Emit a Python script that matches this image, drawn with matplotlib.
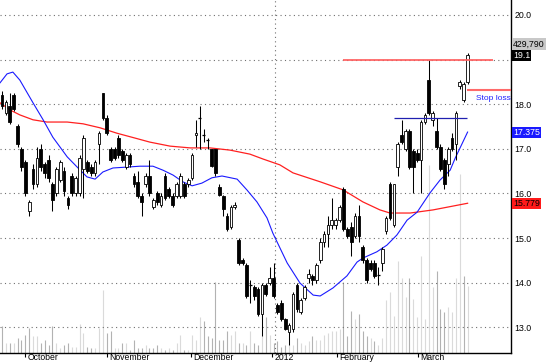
"""
Daily candlestick chart with two moving averages, volume and trade levels.
"""
import matplotlib
matplotlib.use("Agg")
import matplotlib.pyplot as plt
import matplotlib.transforms as mtransforms

plt.rcParams['font.family'] = ['Liberation Sans', 'DejaVu Sans']

# OHLC per trading day
opens = [18.20, 17.80, 17.95, 18.20, 17.50, 17.00, 16.70, 15.60, 16.55, 16.20,
         17.00, 16.65, 16.75, 16.20, 16.00, 16.30, 16.50, 15.90, 16.40, 16.00,
         16.00, 16.55, 16.70, 16.60, 16.45, 17.10, 18.25, 17.70, 17.00, 17.00,
         17.25, 16.95, 16.60, 16.85, 16.40, 16.25, 15.95, 16.20, 16.40, 15.70,
         16.00, 15.75, 16.40, 16.10, 15.95, 15.95, 15.95, 16.20, 16.20, 16.35,
         17.30, 17.70, 17.30, 17.20, 17.00, 17.00, 16.15, 15.95, 15.50, 15.25,
         15.70, 14.95, 14.50, 14.40, 13.95, 13.90, 13.85, 13.30, 13.95, 14.00,
         14.10, 13.50, 13.55, 13.18, 12.90, 12.95, 13.95, 13.35, 13.65, 14.10,
         14.15, 14.05, 14.50, 14.90, 15.10, 15.30, 15.30, 15.40, 16.10, 15.20,
         15.25, 15.05, 15.50, 14.80, 14.50, 14.45, 14.45, 14.17, 14.45, 15.15,
         16.20, 15.30, 16.60, 17.30, 17.00, 17.40, 16.95, 16.90, 16.75, 17.60,
         18.55, 17.65, 17.40, 17.05, 16.75, 16.65, 17.25, 17.10, 18.40, 18.10,
         18.50]
highs = [18.30, 18.10, 18.25, 18.25, 17.55, 17.05, 16.75, 15.85, 16.65, 17.05,
         17.10, 16.70, 16.85, 16.25, 16.60, 16.75, 16.60, 15.95, 16.45, 16.40,
         16.85, 17.30, 16.75, 16.65, 16.75, 17.40, 18.25, 17.75, 17.05, 17.05,
         17.30, 17.00, 16.90, 16.90, 16.45, 16.50, 16.00, 16.45, 16.75, 15.90,
         16.05, 16.00, 16.45, 16.15, 16.00, 16.25, 16.45, 16.25, 16.35, 16.90,
         17.65, 17.95, 17.45, 17.25, 17.00, 17.00, 16.20, 15.97, 15.55, 15.75,
         15.80, 15.00, 14.55, 14.45, 14.05, 13.95, 13.90, 14.00, 14.00, 14.35,
         14.45, 13.55, 13.60, 13.20, 13.10, 13.80, 14.00, 13.65, 13.95, 14.30,
         14.20, 14.45, 15.00, 15.15, 15.50, 15.90, 15.45, 15.75, 16.15, 15.25,
         15.35, 15.55, 15.75, 14.85, 14.55, 14.50, 14.50, 14.35, 14.80, 15.50,
         16.25, 16.20, 17.15, 17.65, 17.45, 17.45, 17.00, 17.00, 17.65, 17.80,
         19.00, 17.85, 17.70, 17.10, 16.80, 17.05, 17.35, 17.85, 18.55, 18.50,
         19.15]
lows = [17.90, 17.75, 17.55, 17.85, 17.05, 16.50, 15.95, 15.50, 16.10, 16.15,
        16.50, 16.35, 16.25, 15.60, 15.95, 16.25, 15.95, 15.65, 15.95, 15.95,
        15.95, 15.90, 16.45, 16.40, 16.40, 16.65, 17.65, 17.30, 16.70, 16.75,
        16.80, 16.70, 16.55, 16.60, 16.15, 15.90, 15.50, 16.15, 15.95, 15.65,
        15.75, 15.70, 15.85, 15.90, 15.70, 15.90, 15.90, 15.90, 16.15, 16.30,
        17.05, 17.00, 17.15, 17.00, 16.60, 16.40, 15.95, 15.50, 15.15, 15.20,
        15.65, 14.40, 14.40, 13.65, 13.55, 13.60, 13.25, 12.80, 13.70, 13.95,
        13.65, 13.30, 13.15, 12.93, 12.60, 12.90, 13.35, 13.30, 13.60, 14.00,
        13.95, 14.00, 14.45, 14.80, 14.80, 15.20, 15.20, 15.35, 15.15, 15.00,
        14.60, 15.00, 14.90, 14.45, 14.00, 14.25, 14.10, 13.95, 14.25, 15.10,
        15.40, 15.25, 16.40, 17.10, 16.95, 16.55, 16.00, 16.70, 16.00, 17.55,
        17.75, 17.50, 17.00, 16.50, 16.10, 16.40, 16.95, 16.75, 18.35, 18.05,
        18.45]
closes = [17.95, 18.05, 17.60, 17.90, 17.10, 16.60, 16.00, 15.80, 16.20, 16.80,
          16.60, 16.45, 16.35, 15.85, 16.55, 16.70, 16.05, 15.75, 16.00, 16.35,
          16.80, 17.25, 16.50, 16.45, 16.70, 17.35, 17.70, 17.35, 16.75, 16.80,
          16.85, 16.75, 16.85, 16.65, 16.20, 15.95, 15.80, 16.40, 16.00, 15.85,
          15.80, 15.95, 15.90, 15.95, 15.75, 16.20, 16.40, 15.95, 16.30, 16.85,
          17.35, 17.72, 17.32, 17.18, 16.62, 16.45, 15.97, 15.65, 15.20, 15.70,
          15.75, 14.45, 14.45, 13.70, 13.93, 13.70, 13.30, 13.95, 13.75, 14.10,
          13.70, 13.35, 13.18, 12.95, 13.05, 13.75, 13.40, 13.60, 13.90, 14.20,
          14.05, 14.40, 14.90, 15.10, 15.30, 15.40, 15.40, 15.70, 15.20, 15.05,
          14.90, 15.50, 15.05, 14.50, 14.05, 14.30, 14.15, 14.15, 14.75, 15.45,
          15.45, 16.20, 17.10, 17.15, 17.40, 16.60, 16.60, 16.75, 17.60, 17.75,
          17.80, 17.80, 17.05, 16.55, 16.20, 17.00, 17.00, 17.80, 18.50, 18.45,
          19.10]
# volume, thousands of shares
volume = [173, 58, 58, 58, 96, 83, 115, 160, 109, 109,
          58, 77, 51, 173, 58, 32, 51, 58, 38, 38,
          186, 128, 38, 26, 26, 154, 398, 128, 135, 26,
          26, 58, 58, 13, 77, 32, 32, 45, 32, 26,
          51, 32, 19, 26, 19, 64, 115, 19, 19, 115,
          77, 225, 205, 109, 96, 455, 77, 77, 141, 115,
          135, 64, 64, 51, 135, 64, 45, 109, 225, 115,
          58, 71, 38, 45, 45, 51, 90, 58, 51, 71,
          109, 83, 83, 115, 128, 135, 135, 148, 455, 103,
          269, 218, 250, 135, 103, 90, 71, 45, 90, 334,
          385, 231, 590, 481, 359, 475, 340, 225, 616, 212,
          1206, 423, 526, 282, 263, 295, 263, 481, 1142, 488,
          429.79]

# moving averages, sampled from the chart (bar index, price)
fast_ma_x = [-0.5, 1.3, 2.8, 4.6, 8.0, 10.6, 13.1, 16.8, 19.6, 21.9, 24.0, 26.0,
             28.6, 32.2, 35.6, 38.9, 41.5, 44.1, 46.6, 49.0, 51.5, 54.1, 56.7,
             60.6, 63.1, 65.7, 68.3, 69.8, 73.5, 76.8, 80.2, 82.0, 85.3, 88.9,
             91.5, 93.0, 96.6, 99.2, 101.8, 104.4, 107.0, 110.3, 112.9, 115.5,
             116.8, 120.0]
fast_ma = [18.48, 18.68, 18.72, 18.54, 18.03, 17.65, 17.26, 16.82, 16.57, 16.37,
           16.32, 16.48, 16.57, 16.59, 16.61, 16.61, 16.52, 16.41, 16.26, 16.17,
           16.23, 16.35, 16.39, 16.32, 16.08, 15.81, 15.45, 15.11, 14.44, 13.99,
           13.72, 13.70, 13.88, 14.15, 14.46, 14.55, 14.69, 14.84, 15.07, 15.40,
           15.58, 16.01, 16.30, 16.52, 16.79, 17.375]
slow_ma_x = [-0.5, 2.1, 4.6, 8.0, 11.6, 16.8, 20.9, 25.3, 29.6, 34.3, 38.1, 43.3,
             48.5, 53.6, 58.8, 63.9, 67.3, 71.6, 75.0, 82.0, 87.9, 93.0, 97.4,
             100.0, 105.2, 111.1, 120.0]
slow_ma = [18.03, 17.87, 17.76, 17.65, 17.60, 17.60, 17.56, 17.47, 17.35, 17.24,
           17.15, 17.06, 17.02, 17.02, 16.97, 16.88, 16.77, 16.64, 16.46, 16.26,
           16.08, 15.81, 15.63, 15.56, 15.56, 15.63, 15.779]

month_pos = [5.9, 27.0, 48.7, 69.6, 86.3, 107.1]
month_labels = ["October", "November", "December", "2012", "February", "March"]
year_break = 70.3

resistance = 19.0
resistance_from = 87.9
resistance_to = 126.5
breakout = 17.7
breakout_from = 101.0
breakout_to = 119.9
stop_loss = 18.32
stop_from = 119.9

n = len(closes)
idx = list(range(n))

fig = plt.figure(figsize=(5.5, 3.64), dpi=100)
rect = [0, 11.5 / 364, 511 / 550, 352.5 / 364]
xlim = (-2 / 3.88, 509 / 3.88)

# volume underneath
axv = fig.add_axes(rect)
vcol = ['#dadada' if i > 0 and closes[i] >= closes[i - 1] else '#b2b2b2'
        for i in idx]
axv.vlines(idx, 0, volume, colors=vcol, lw=0.8)
axv.set_xlim(*xlim)
axv.set_ylim(0, 352.5 * 6.415)
axv.axis('off')

ax = fig.add_axes(rect, facecolor='none')
ax.set_xlim(*xlim)
ax.set_ylim(12.433, 20.336)

for p in range(13, 21):
    ax.axhline(p, color='#707070', lw=0.8, ls=(0, (1, 3)), zorder=1)
ax.axvline(year_break, color='#707070', lw=0.8, ls=(0, (1, 3)), zorder=1)

ax.plot(slow_ma_x, slow_ma, color='#ff2020', lw=0.9, zorder=2)
ax.plot(fast_ma_x, fast_ma, color='#1a1aff', lw=0.8, zorder=2)

# candles
ax.vlines(idx, lows, highs, colors='black', lw=0.75, zorder=3)
for i in idx:
    o, c = opens[i], closes[i]
    h = c - o
    if abs(h) < 0.03:
        ax.hlines(o, i - 0.38, i + 0.38, colors='black', lw=0.9, zorder=4)
        continue
    fc = 'black' if c < o else 'white'
    ax.bar(i, h, bottom=o, width=0.7, color=fc, edgecolor='black',
           lw=0.6, zorder=4)

# trade levels
ax.hlines(resistance, resistance_from, resistance_to, colors='#ff5a5a', lw=1.2, zorder=5)
ax.hlines(breakout, breakout_from, breakout_to, colors='#2020b0', lw=0.9, zorder=5)
ax.hlines(stop_loss, stop_from, xlim[1], colors='#ff6a6a', lw=1.5, zorder=5)
ax.text(122.2, 18.13, "Stop loss", color='#2020ff', fontsize=6,
        ha='left', va='center', zorder=6)

# axes styling
for s in ['left', 'top']:
    ax.spines[s].set_visible(False)
ax.spines['right'].set_linewidth(1.0)
ax.spines['bottom'].set_linewidth(1.0)
ax.yaxis.tick_right()
ax.set_yticks(range(13, 21))
# 19.0 sits under the last-close box
ax.set_yticklabels(["" if p == 19 else "%.1f" % p for p in range(13, 21)],
                   fontsize=6.3)
ax.tick_params(axis='y', length=0, pad=2.5)
ax.set_xticks(month_pos)
ax.set_xticklabels(month_labels, fontsize=6.2)
ax.tick_params(axis='x', length=3, width=0.8, pad=-2.6)
shift = mtransforms.ScaledTranslation(2.5 / 100, 0, fig.dpi_scale_trans)
for lbl in ax.get_xticklabels():
    lbl.set_ha('left')
    lbl.set_transform(lbl.get_transform() + shift)

# value boxes on the price scale
tr = ax.get_yaxis_transform()
boxes = [
    (19.35, "{:,}".format(int(round(volume[-1] * 1000))), '#c8c8c8', 'black'),
    (closes[-1], "%.1f" % closes[-1], 'black', 'white'),
    (fast_ma[-1], "%.3f" % fast_ma[-1], '#1a1aff', 'white'),
    (slow_ma[-1], "%.3f" % slow_ma[-1], '#ff1a1a', 'black'),
]
for y, txt, bg, fg in boxes:
    ax.text(1.004, y, txt, transform=tr, fontsize=6.3, color=fg,
            ha='left', va='center', clip_on=False, zorder=10,
            bbox=dict(boxstyle='square,pad=0.12', fc=bg, ec='none'))

fig.savefig("out.png", dpi=100)
